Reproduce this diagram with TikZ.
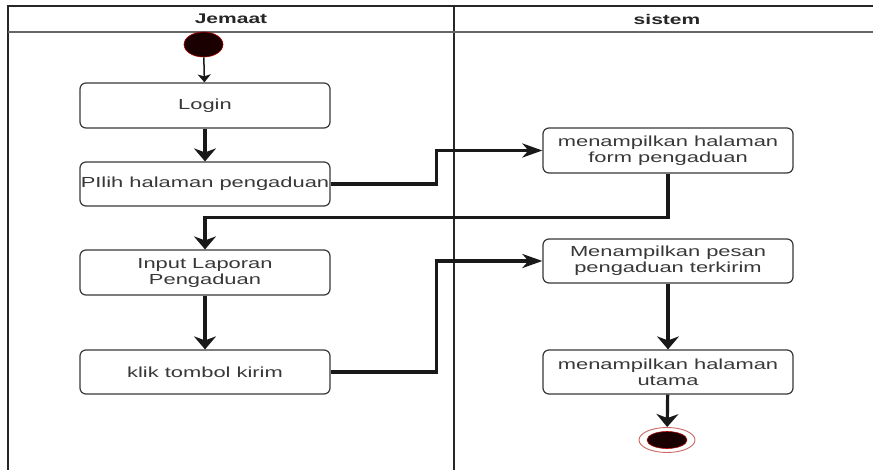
\documentclass[tikz,border=0pt]{standalone}
\usepackage{fontspec}
\usetikzlibrary{arrows.meta,calc,shapes.geometric}
\newfontfamily\lanefont[FakeStretch=1.5]{Liberation Sans}
\definecolor{inkgray}{HTML}{383838}
\definecolor{nodeblack}{HTML}{1A0000}
\definecolor{nodered}{HTML}{B00000}
\tikzset{
  act/.style={draw=inkgray, line width=1.2pt, rounded corners=6pt, fill=white,
    minimum width=250pt, minimum height=45pt, inner sep=0pt, align=center,
    text=inkgray, font=\lanefont\fontsize{14.6}{16}\selectfont},
  lanetitle/.style={font=\lanefont\bfseries\fontsize{14}{16}\selectfont, text=black!85},
  frame/.style={line width=2pt, draw=black!85},
  flow/.style={line width=3.2pt, draw=black!90},
  vtip/.style={-{Stealth[length=13pt,width=22pt,inset=4pt]}},
  htip/.style={-{Stealth[length=20pt,width=14pt,inset=6pt]}},
  thintip/.style={-{Stealth[length=8pt,width=13pt,inset=2pt]}},
}
\begin{document}
\begin{tikzpicture}[x=1pt,y=-1pt]
  \useasboundingbox[fill=white] (0,0) rectangle (873,470);

  % swimlane frame
  \draw[frame] (8,470) -- (8,6) -- (873,6);
  \draw[frame] (454,6) -- (454,470);
  \draw[line width=2pt, draw=black!60] (8,32) -- (873,32);
  \node[lanetitle] (laneA) at (231,19) {Jemaat};
  \node[lanetitle] (laneB) at (667,19) {sistem};

  % start and end states
  \node[ellipse, minimum width=39pt, minimum height=25pt, inner sep=0pt,
        fill=nodeblack, draw=nodered, line width=0.6pt] (start) at (203.5,44.5) {};
  \node[ellipse, minimum width=56pt, minimum height=25pt, inner sep=0pt,
        draw=nodered!60, line width=0.9pt, fill=white] (finish) at (667,440) {};
  \node[ellipse, minimum width=40pt, minimum height=17pt, inner sep=0pt,
        fill=nodeblack, draw=nodered, line width=0.6pt] (finishdot) at (667,440) {};

  % actions of Jemaat
  \node[act] (login) at (205,105.5) {Login};
  \node[act, minimum height=44pt] (pilih) at (205,184) {PIlih halaman pengaduan};
  \node[act] (input) at (205,272.5) {Input Laporan\\Pengaduan};
  \node[act, minimum height=44pt] (klik) at (205,372) {klik tombol kirim};

  % actions of sistem
  \node[act] (form) at (668,150.5) {menampilkan halaman\\form pengaduan};
  \node[act, minimum height=44pt] (pesan) at (668,261) {Menampilkan pesan\\pengaduan terkirim};
  \node[act, minimum height=44pt] (utama) at (668,372) {menampilkan halaman\\utama};

  % control flow
  \draw[line width=1.5pt, draw=black!90, thintip] (start) -- (login);
  \draw[flow, vtip] (login) -- (pilih);
  \draw[flow, htip] (pilih.east) -- ($(pilih.east)!0.5!(pilih.east -| form.west)$) |- (form.west);
  \draw[flow, vtip] (form.south) -- ++(0,44) -| (input.north);
  \draw[flow, vtip] (input) -- (klik);
  \draw[flow, htip] (klik.east) -- ($(klik.east)!0.5!(klik.east -| pesan.west)$) |- (pesan.west);
  \draw[flow, vtip] (pesan) -- (utama);
  \draw[flow, vtip] (utama) -- (finish);
\end{tikzpicture}
\end{document}
